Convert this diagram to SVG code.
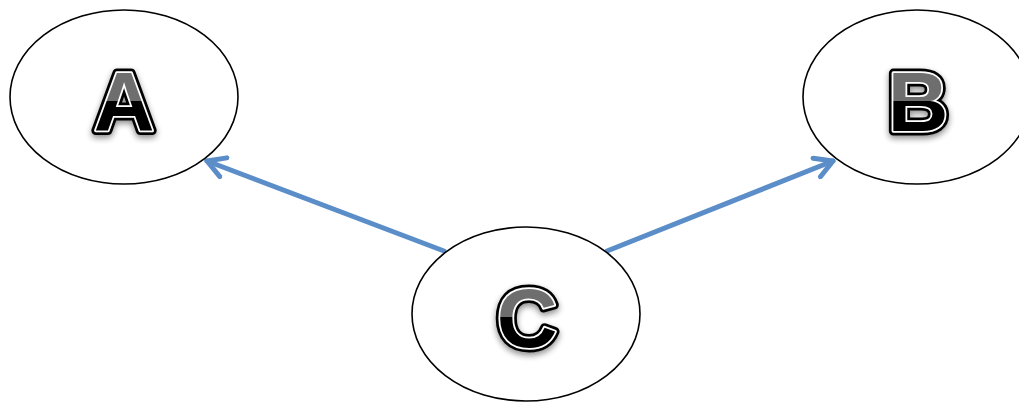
<svg xmlns="http://www.w3.org/2000/svg" width="1019" height="404" viewBox="0 0 1019 404">
<defs>
<style>
.node{fill:#fff;stroke:#000;stroke-width:1.6}
.conn{fill:none;stroke:#5b8ec8;stroke-width:5;stroke-linecap:round;stroke-linejoin:round}
.lblo{font-family:"Liberation Sans",Arial,sans-serif;font-weight:bold;font-size:84px;text-anchor:middle;fill:none;stroke:#000;stroke-width:9;stroke-linejoin:round}
.lbl{font-family:"Liberation Sans",Arial,sans-serif;font-weight:bold;font-size:84px;text-anchor:middle;stroke:#fff;stroke-width:3.5;stroke-linejoin:round;paint-order:stroke}
</style>
<linearGradient id="gA" gradientUnits="userSpaceOnUse" x1="0" y1="71" x2="0" y2="131"><stop offset="0.5" stop-color="#6e6e6e"/><stop offset="0.5" stop-color="#000"/></linearGradient>
<linearGradient id="gB" gradientUnits="userSpaceOnUse" x1="0" y1="71" x2="0" y2="131"><stop offset="0.5" stop-color="#6e6e6e"/><stop offset="0.5" stop-color="#000"/></linearGradient>
<linearGradient id="gC" gradientUnits="userSpaceOnUse" x1="0" y1="285" x2="0" y2="349"><stop offset="0.5" stop-color="#6e6e6e"/><stop offset="0.5" stop-color="#000"/></linearGradient>
<filter id="sh" x="-30%" y="-30%" width="160%" height="160%"><feGaussianBlur in="SourceAlpha" stdDeviation="3"/><feOffset dx="0" dy="3" result="b"/><feComponentTransfer><feFuncA type="linear" slope="0.45"/></feComponentTransfer><feMerge><feMergeNode/><feMergeNode in="SourceGraphic"/></feMerge></filter>
<marker id="ah" viewBox="0 0 10 10" refX="8" refY="5" markerWidth="5" markerHeight="5" orient="auto" markerUnits="strokeWidth"><path d="M1,1 L8,5 L1,9" fill="none" stroke="#5b8ec8" stroke-width="2" stroke-linecap="round" stroke-linejoin="round"/></marker>
</defs>
<g id="connectors">
<line class="conn" x1="444" y1="251" x2="207" y2="161" marker-end="url(#ah)"/>
<line class="conn" x1="607" y1="251" x2="833" y2="161" marker-end="url(#ah)"/>
</g>
<g id="nodeA">
<ellipse class="node" cx="124" cy="97" rx="114" ry="87"/>
<g filter="url(#sh)"><text class="lblo" x="124" y="131">A</text><text class="lbl" x="124" y="131" fill="url(#gA)">A</text></g>
</g>
<g id="nodeB">
<ellipse class="node" cx="917" cy="97" rx="114" ry="87"/>
<g filter="url(#sh)"><text class="lblo" x="918" y="131">B</text><text class="lbl" x="918" y="131" fill="url(#gB)">B</text></g>
</g>
<g id="nodeC">
<ellipse class="node" cx="526" cy="314" rx="114" ry="87"/>
<g filter="url(#sh)"><text class="lblo" x="527" y="347">C</text><text class="lbl" x="527" y="347" fill="url(#gC)">C</text></g>
</g>
</svg>
